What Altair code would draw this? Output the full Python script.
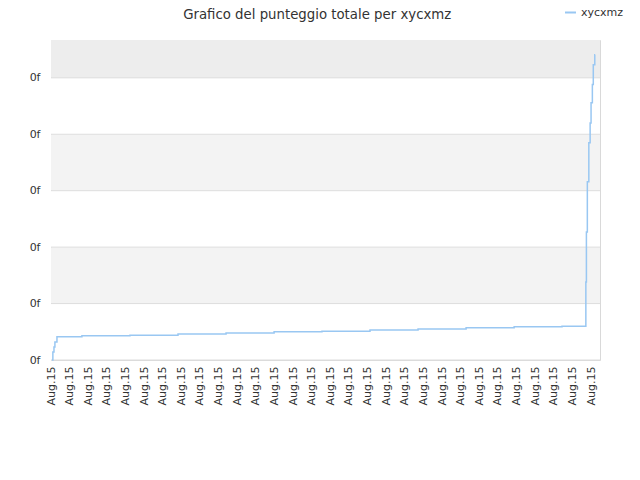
import altair as alt
import pandas as pd

TITLE = "Grafico del punteggio totale per xycxmz"
SERIES = "xycxmz"

# step-after line: x = time index (one unit per tick), y = score (axis units)
line_x = [0.05, 0.10, 0.16, 0.21, 0.32, 1.66, 4.24, 6.82, 9.40, 11.98, 14.55, 17.13,
          19.71, 22.29, 24.87, 27.44, 28.72, 28.75, 28.80, 28.88, 28.95, 29.00, 29.07,
          29.12, 29.20, 29.22]
line_y = [0.00, 0.14, 0.23, 0.32, 0.41, 0.43, 0.44, 0.46, 0.48, 0.50, 0.51, 0.53,
          0.55, 0.57, 0.59, 0.60, 1.38, 2.27, 3.16, 3.85, 4.20, 4.56, 4.88,
          5.23, 5.41, 5.41]

x_ticks = list(range(30))
x_tick_labels = ["Aug.15"] * 30
y_ticks = [0, 1, 2, 3, 4, 5]
y_tick_labels = ["0f"] * 6

band_start = [0, 1, 2, 3, 4, 5]
band_end = [1, 2, 3, 4, 5, 5.67]
band_color = ["#ffffff", "#f3f3f3", "#ffffff", "#f3f3f3", "#ffffff", "#ededed"]

X_MAX = 29.48
Y_MAX = 5.67
W, H = 549, 320

line_df = pd.DataFrame({"x": line_x, "y": line_y, "s": [SERIES] * len(line_x)})
band_df = pd.DataFrame({"y0": band_start, "y1": band_end, "c": band_color})
grid_df = pd.DataFrame({"y": y_ticks})

xlab_expr = "[" + ",".join("'%s'" % l for l in x_tick_labels) + "][round(datum.value)] || ''"
ylab_expr = "[" + ",".join("'%s'" % l for l in y_tick_labels) + "][round(datum.value)] || ''"

xscale = alt.Scale(domain=[0, X_MAX], nice=False, zero=False)
yscale = alt.Scale(domain=[0, Y_MAX], nice=False)

yaxis = alt.Axis(values=y_ticks, labelExpr=ylab_expr, grid=False, ticks=False,
                 domain=False, labelPadding=11, labelFont="DejaVu Sans",
                 labelFontSize=11, labelColor="#333333", labelFlush=False,
                 labelOverlap=False, title=None)

bands = alt.Chart(band_df).mark_rect().encode(
    x=alt.value(0), x2=alt.value(W),
    y=alt.Y("y0:Q", scale=yscale, axis=yaxis),
    y2="y1:Q",
    fill=alt.Fill("c:N", scale=None, legend=None),
)

grid = alt.Chart(grid_df).mark_rule(color="#dddddd", strokeWidth=1).encode(
    x=alt.value(0), x2=alt.value(W),
    y=alt.Y("y:Q", scale=yscale, axis=yaxis),
)

line = alt.Chart(line_df).mark_line(interpolate="step-after", strokeWidth=1.5).encode(
    x=alt.X("x:Q", scale=xscale, title=None,
            axis=alt.Axis(values=x_ticks, labelExpr=xlab_expr, labelAngle=-90,
                          grid=False, ticks=False, domain=False, labelPadding=6,
                          labelFont="DejaVu Sans", labelFontSize=11, labelColor="#333333",
                          labelOverlap=False, labelBound=False, labelFlush=False)),
    y=alt.Y("y:Q", scale=yscale, title=None, axis=yaxis),
    color=alt.Color("s:N", scale=alt.Scale(domain=[SERIES], range=["#99c7f2"]),
                    legend=alt.Legend(title=None, orient="none", legendX=513, legendY=-34,
                                      symbolType="stroke", symbolSize=120,
                                      symbolStrokeWidth=2, labelFont="DejaVu Sans",
                                      labelFontSize=11, labelColor="#333333")),
)

chart = alt.layer(bands, grid, line).properties(
    width=W, height=H,
    padding={"left": 43, "top": 32, "right": 30, "bottom": 50},
    autosize=alt.AutoSizeParams(type="none"),
    title=alt.TitleParams(TITLE, anchor="start", dx=154, offset=0, dy=15,
                          font="DejaVu Sans", fontSize=13.3, fontWeight="normal",
                          color="#333333"),
).configure_view(stroke="#d9d9d9", strokeWidth=1)

chart.save("out.html", embed_options={"renderer": "svg", "actions": False})
